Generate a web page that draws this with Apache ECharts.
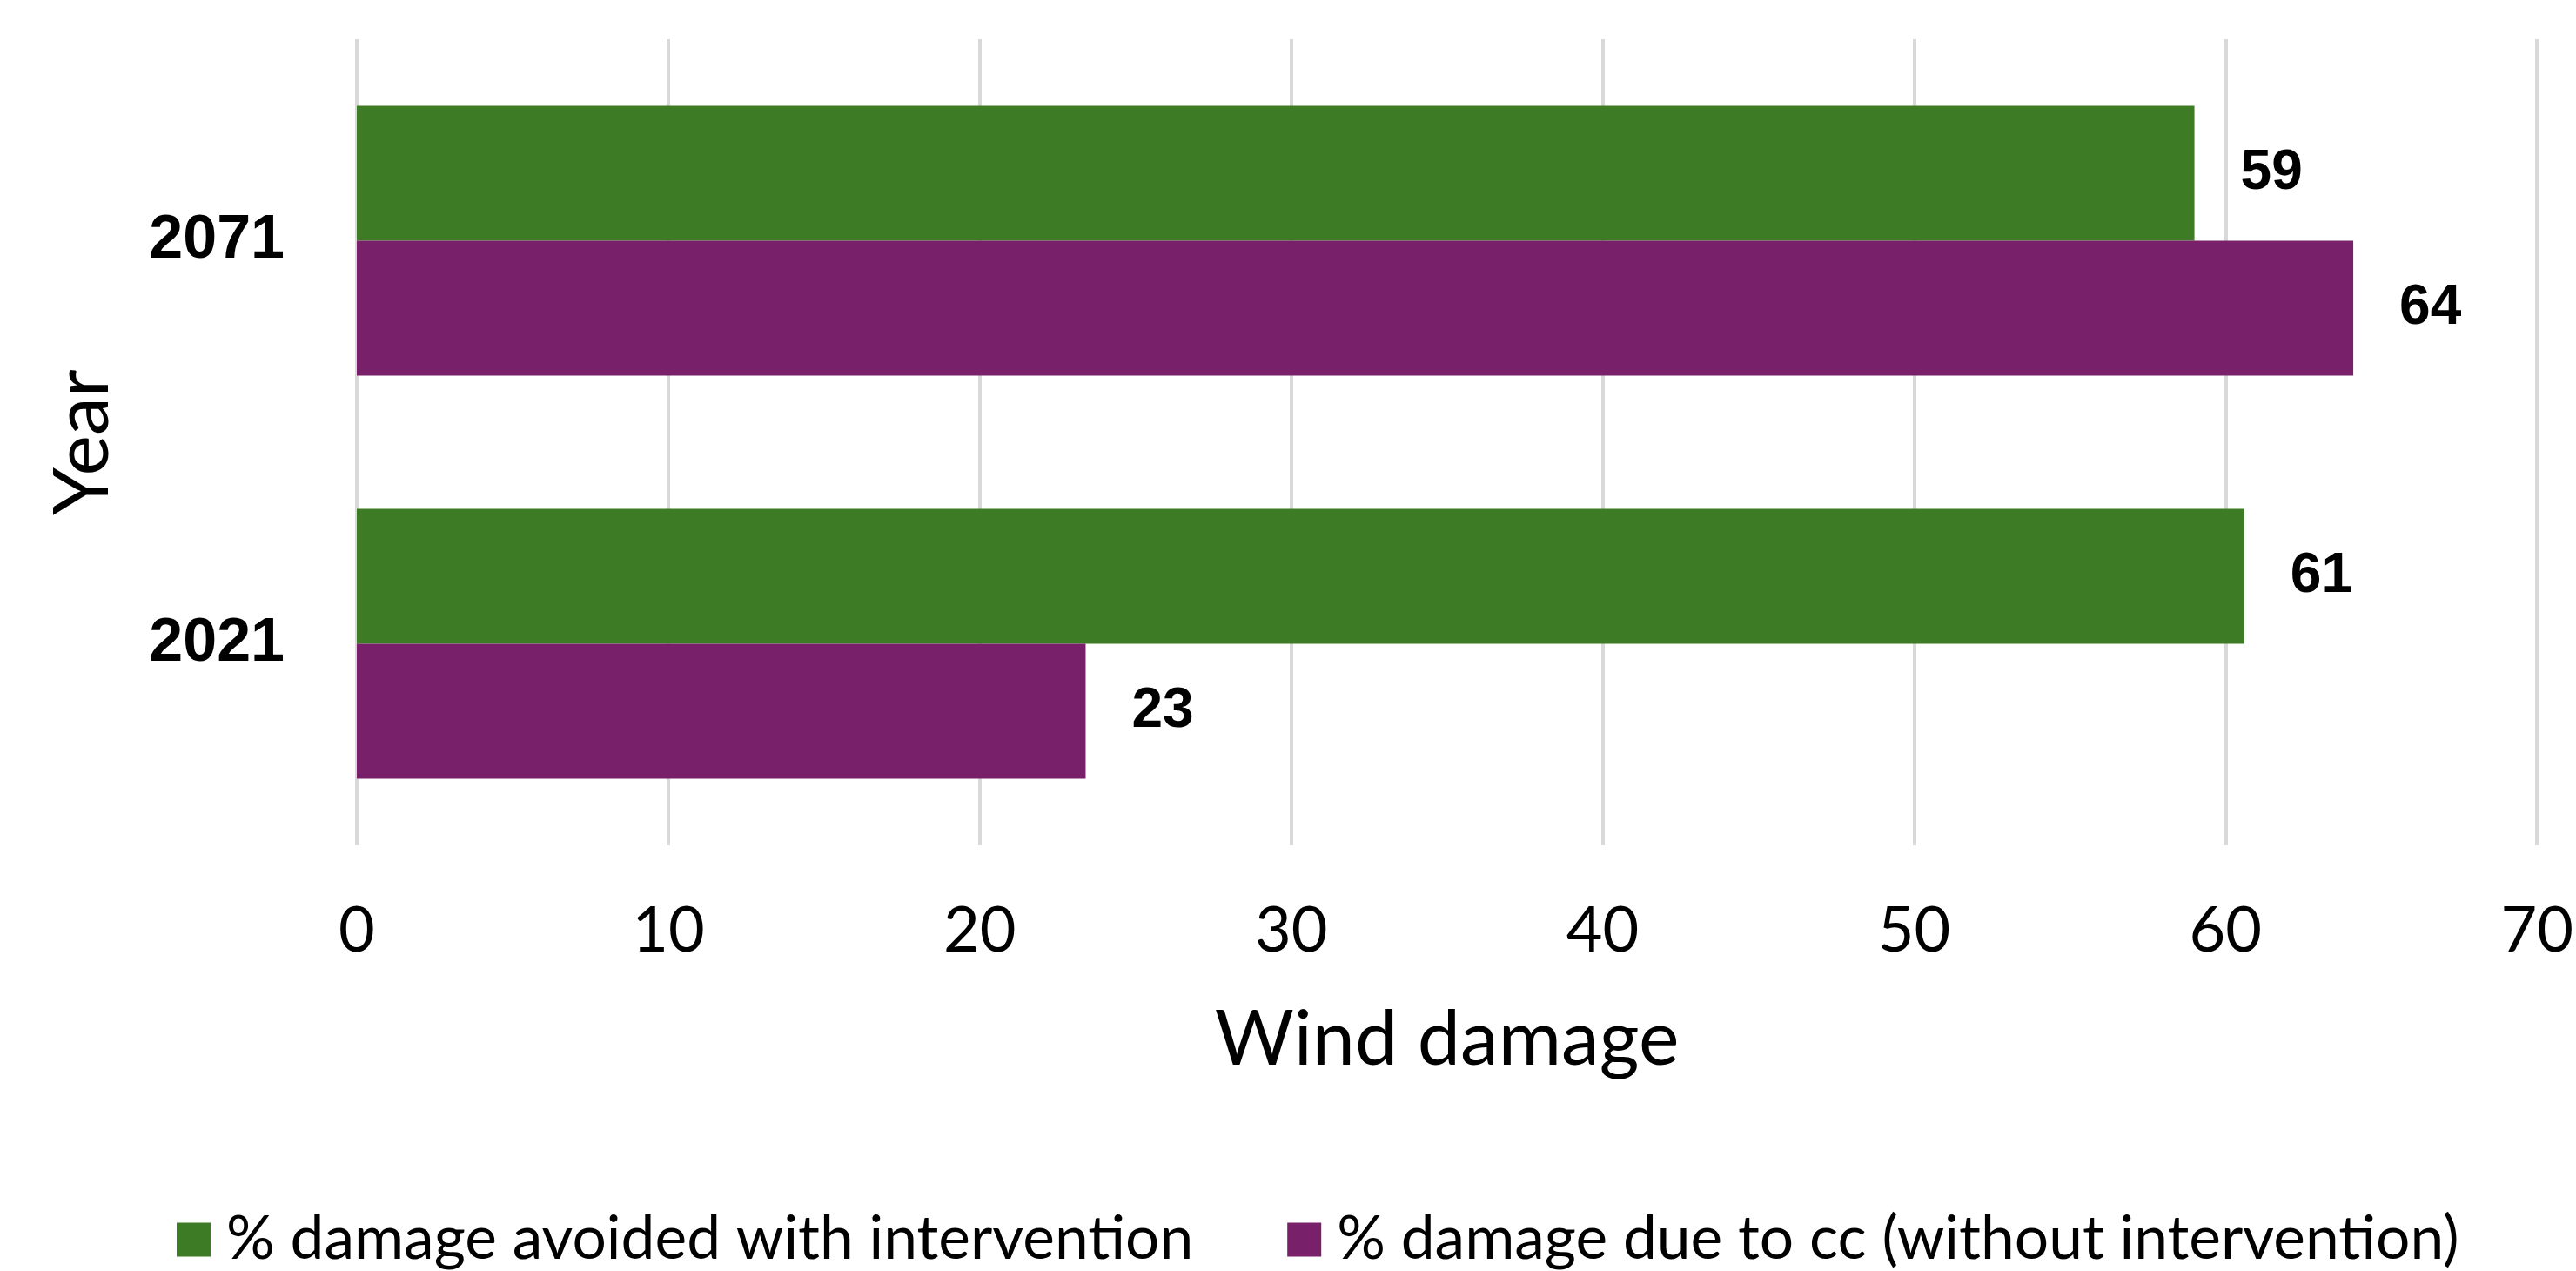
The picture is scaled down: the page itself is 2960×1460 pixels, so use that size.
<!DOCTYPE html>
<html>
<head>
<meta charset="utf-8">
<title>Wind damage</title>
<script src="https://cdn.jsdelivr.net/npm/echarts@6/dist/echarts.min.js"></script>
<style>
  html, body { margin: 0; padding: 0; background: #ffffff; }
  #chart { width: 2960px; height: 1460px; }
</style>
</head>
<body>
<div id="chart"></div>
<script>
// Years shown on the category axis (top to bottom)
const years = ['2071', '2021'];

// Series names
const avoidedName = '% damage avoided with intervention';
const ccName = '% damage due to cc (without intervention)';

// Series values, one per year
const avoidedValues = [59.0, 60.6];
const ccValues = [64.1, 23.4];

// Value axis ticks
const xMin = 0;
const xMax = 70;
const xStep = 10;

const GREEN = '#3D7C25';
const PURPLE = '#78206A';

const chart = echarts.init(document.getElementById('chart'), null, { renderer: 'canvas' });

const valueLabel = {
  show: true,
  position: 'right',
  distance: 53,
  fontFamily: 'Liberation Sans',
  fontWeight: 'bold',
  fontSize: 64,
  color: '#000000',
  formatter: p => String(Math.round(p.value))
};

chart.setOption({
  animation: false,
  backgroundColor: '#ffffff',
  grid: { left: 410, right: 36, top: 45, bottom: 489, containLabel: false },
  legend: {
    left: 198,
    top: 1384,
    icon: 'rect',
    itemWidth: 39,
    itemHeight: 39,
    itemGap: 108,
    selectedMode: false,
    data: [avoidedName, ccName],
    textStyle: {
      fontFamily: 'Lato',
      fontSize: 69.5,
      color: '#000000',
      padding: [0, 0, 0, 13]
    }
  },
  xAxis: {
    type: 'value',
    min: xMin,
    max: xMax,
    interval: xStep,
    name: 'Wind damage',
    nameLocation: 'middle',
    nameGap: 180,
    nameTextStyle: { fontFamily: 'Lato', fontSize: 88, color: '#000000' },
    axisLine: { show: false },
    axisTick: { show: false },
    axisLabel: { margin: 63, fontFamily: 'Lato', fontSize: 72, color: '#000000' },
    splitLine: { show: true, lineStyle: { color: '#D9D9D9', width: 4 } }
  },
  yAxis: {
    type: 'category',
    data: years,
    inverse: true,
    name: 'Year',
    nameLocation: 'middle',
    nameGap: 270,
    nameRotate: 90,
    nameTextStyle: { fontFamily: 'Lato', fontSize: 88, color: '#000000' },
    axisLine: { show: false },
    axisTick: { show: false },
    axisLabel: { margin: 83, fontFamily: 'Liberation Sans', fontWeight: 'bold', fontSize: 70, color: '#000000' },
    splitLine: { show: false }
  },
  series: [
    {
      name: avoidedName,
      type: 'bar',
      data: avoidedValues,
      barGap: '0%',
      barCategoryGap: '33%',
      itemStyle: { color: GREEN },
      label: valueLabel
    },
    {
      name: ccName,
      type: 'bar',
      data: ccValues,
      barGap: '0%',
      barCategoryGap: '33%',
      itemStyle: { color: PURPLE },
      label: valueLabel
    }
  ]
});
</script>
</body>
</html>
